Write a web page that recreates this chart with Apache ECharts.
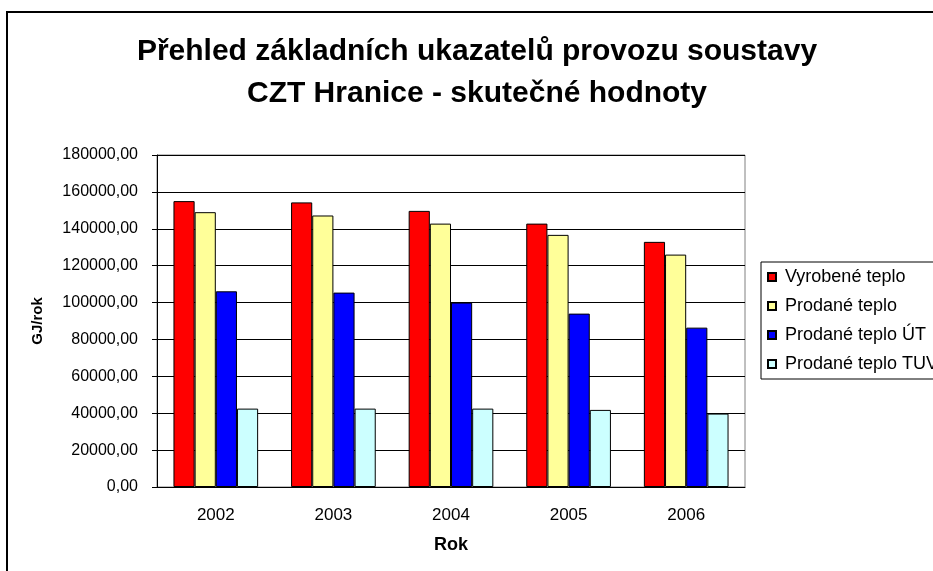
<!DOCTYPE html>
<html>
<head>
<meta charset="utf-8">
<style>
  html, body { margin: 0; padding: 0; background: #fff; }
  #chart { width: 933px; height: 571px; }
</style>
<script src="https://cdn.jsdelivr.net/npm/echarts@6/dist/echarts.min.js"></script>
</head>
<body>
<div id="chart"></div>
<script>
var years = ['2002', '2003', '2004', '2005', '2006'];
var seriesNames = ['Vyrobené teplo', 'Prodané teplo', 'Prodané teplo ÚT', 'Prodané teplo TUV'];
var vyrobene = [155000, 154300, 149700, 142800, 132900];
var prodane = [149000, 147200, 142800, 136700, 126000];
var prodaneUT = [106100, 105400, 100000, 94000, 86400];
var prodaneTUV = [42500, 42500, 42500, 41800, 39800];
var colors = ['#ff0000', '#ffff99', '#0000ff', '#ccffff'];

var font = '"Liberation Sans", Arial, sans-serif';
var myChart = echarts.init(document.getElementById('chart'));

function bar(name, data, color) {
    return {
        name: name,
        type: 'bar',
        data: data,
        barGap: '0%',
        barCategoryGap: '28%',
        itemStyle: { color: color, borderColor: '#000', borderWidth: 1 }
    };
}

myChart.setOption({
    backgroundColor: '#fff',
    animation: false,
    title: {
        text: 'Přehled základních ukazatelů provozu soustavy\nCZT Hranice - skutečné hodnoty',
        left: 477,
        top: 31,
        textAlign: 'center',
        padding: 0,
        textStyle: {
            fontFamily: font,
            fontSize: 30,
            fontWeight: 'bold',
            lineHeight: 42,
            color: '#000'
        }
    },
    graphic: [{
        type: 'rect',
        shape: { x: 7, y: 12, width: 1000, height: 1000 },
        style: { fill: 'none', stroke: '#000', lineWidth: 2 },
        silent: true
    }],
    legend: {
        orient: 'vertical',
        left: 761,
        top: 262,
        padding: [6, 8, 6, 6],
        itemGap: 11,
        itemWidth: 8,
        itemHeight: 8,
        icon: 'rect',
        borderColor: '#000',
        borderWidth: 1,
        textStyle: { fontFamily: font, fontSize: 18, color: '#000', padding: [0, 0, 0, 4] },
        data: seriesNames
    },
    grid: {
        left: 157,
        top: 155,
        width: 588,
        height: 332,
        show: true,
        borderColor: '#808080',
        borderWidth: 1
    },
    xAxis: {
        type: 'category',
        data: years,
        name: 'Rok',
        nameLocation: 'middle',
        nameGap: 49,
        nameTextStyle: { fontFamily: font, fontSize: 18, fontWeight: 'bold', color: '#000' },
        axisLine: { lineStyle: { color: '#000', width: 1 } },
        axisTick: { length: 5, lineStyle: { color: '#000' } },
        axisLabel: { fontFamily: font, fontSize: 17, color: '#000', margin: 20 }
    },
    yAxis: {
        type: 'value',
        min: 0,
        max: 180000,
        interval: 20000,
        name: 'GJ/rok',
        nameLocation: 'middle',
        nameGap: 112,
        nameTextStyle: { fontFamily: font, fontSize: 15, fontWeight: 'bold', color: '#000' },
        axisLine: { show: true, lineStyle: { color: '#000', width: 1 } },
        axisTick: { show: true, length: 5, lineStyle: { color: '#000' } },
        splitLine: { lineStyle: { color: '#000', width: 1 } },
        axisLabel: {
            fontFamily: font,
            fontSize: 16,
            color: '#000',
            margin: 19,
            formatter: function (v) { return v.toFixed(2).replace('.', ','); }
        }
    },
    series: [
        bar(seriesNames[0], vyrobene, colors[0]),
        bar(seriesNames[1], prodane, colors[1]),
        bar(seriesNames[2], prodaneUT, colors[2]),
        bar(seriesNames[3], prodaneTUV, colors[3])
    ]
});
</script>
</body>
</html>
